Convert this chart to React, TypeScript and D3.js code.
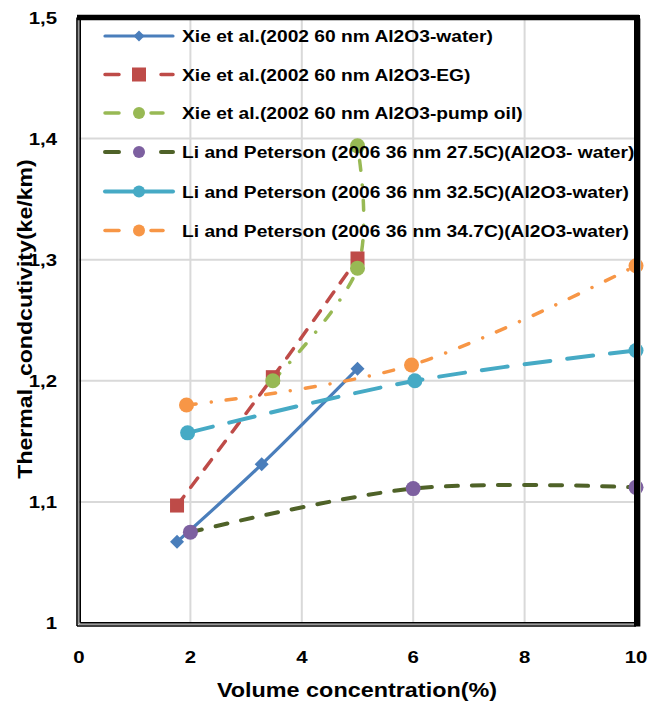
import React from "react";
import * as d3 from "d3";

const W = 649;
const H = 706;

const seriesNames = [
  "Xie et al.(2002 60 nm Al2O3-water)",
  "Xie et al.(2002 60 nm Al2O3-EG)",
  "Xie et al.(2002 60 nm Al2O3-pump oil)",
  "Li and Peterson (2006 36 nm 27.5C)(Al2O3- water)",
  "Li and Peterson (2006 36 nm 32.5C)(Al2O3-water)",
  "Li and Peterson (2006 36 nm 34.7C)(Al2O3-water)",
];

const xieWaterX = [1.76, 3.28, 5.0];
const xieWaterY = [1.067, 1.131, 1.21];
const xieEgX = [1.76, 3.48, 5.0];
const xieEgY = [1.097, 1.203, 1.301];
const xieOilX = [3.48, 5.0, 5.0];
const xieOilY = [1.2, 1.293, 1.394];
const li275X = [2.0, 6.0, 10.0];
const li275Y = [1.075, 1.111, 1.112];
const li325X = [1.95, 6.03, 10.0];
const li325Y = [1.157, 1.2, 1.225];
const li347X = [1.93, 5.97, 10.0];
const li347Y = [1.18, 1.213, 1.295];

const xTicks = [0, 2, 4, 6, 8, 10];
const yTicks = [1.0, 1.1, 1.2, 1.3, 1.4, 1.5];
const yTickLabels = ["1", "1,1", "1,2", "1,3", "1,4", "1,5"];

type Style = {
  color: string;
  marker: string;
  markerColor: string;
  width: number;
  dash: string;
};

const styles: Style[] = [
  { color: "#4a7ebb", marker: "diamond", markerColor: "#4a7ebb", width: 3.2, dash: "" },
  { color: "#be4b48", marker: "square", markerColor: "#be4b48", width: 3.5, dash: "11.5 11.5" },
  { color: "#98b954", marker: "circle", markerColor: "#98b954", width: 3.5, dash: "10 15 0.01 15" },
  { color: "#4f6228", marker: "circle", markerColor: "#7d60a0", width: 4, dash: "12 14" },
  { color: "#46aac5", marker: "circle", markerColor: "#46aac5", width: 4, dash: "26 17" },
  { color: "#f79646", marker: "circle", markerColor: "#f79646", width: 3.5, dash: "10 15 0.01 15" },
];

const seriesX = [xieWaterX, xieEgX, xieOilX, li275X, li325X, li347X];
const seriesY = [xieWaterY, xieEgY, xieOilY, li275Y, li325Y, li347Y];

const FONT = "'Liberation Sans', Arial, sans-serif";

const left = 79;
const right = 636;
const top = 17.5;
const bottom = 623;

function Marker({ type, x, y, color, size }: { type: string; x: number; y: number; color: string; size: number }) {
  if (type === "diamond") {
    const s = size;
    return <path d={`M${x},${y - s} L${x + s},${y} L${x},${y + s} L${x - s},${y} Z`} fill={color} />;
  }
  if (type === "square") {
    const s = size;
    return <rect x={x - s} y={y - s} width={2 * s} height={2 * s} fill={color} />;
  }
  return <circle cx={x} cy={y} r={size} fill={color} />;
}

function SText({
  x,
  y,
  size,
  sx,
  anchor,
  children,
}: {
  x: number;
  y: number;
  size: number;
  sx: number;
  anchor?: string;
  children: React.ReactNode;
}) {
  return (
    <g transform={`translate(${x},${y}) scale(${sx},1)`}>
      <text
        x={0}
        y={0}
        textAnchor={anchor || "start"}
        fontFamily={FONT}
        fontWeight="bold"
        fontSize={size}
        fill="#000"
        style={{ whiteSpace: "pre" }}
      >
        {children}
      </text>
    </g>
  );
}

export default function App() {
  const xScale = d3.scaleLinear().domain([0, 10]).range([left, right]);
  const yScale = d3.scaleLinear().domain([1, 1.5]).range([bottom, top]);

  const line = d3
    .line<[number, number]>()
    .x((d) => xScale(d[0]))
    .y((d) => yScale(d[1]))
    .curve(d3.curveCardinal.tension(0));

  const legendRows = [36, 74.5, 113, 152, 191.5, 230.5];

  return (
    <svg width={W} height={H} style={{ position: "absolute", left: 0, top: 0 }}>
      <rect x={0} y={0} width={W} height={H} fill="#ffffff" />
      {yTicks.slice(1, -1).map((t) => (
        <line key={"gy" + t} x1={left} x2={right} y1={yScale(t)} y2={yScale(t)} stroke="#d9d9d9" strokeWidth={2} />
      ))}
      {xTicks.slice(1, -1).map((t) => (
        <line key={"gx" + t} x1={xScale(t)} x2={xScale(t)} y1={top} y2={bottom} stroke="#d9d9d9" strokeWidth={2} />
      ))}

      {seriesX.map((xs, i) => {
        const pts: [number, number][] = xs.map((x, j) => [x, seriesY[i][j]]);
        const st = styles[i];
        return (
          <path
            key={"l" + i}
            d={line(pts) || ""}
            fill="none"
            stroke={st.color}
            strokeWidth={st.width}
            strokeDasharray={st.dash || undefined}
            strokeLinecap={st.dash ? "round" : "butt"}
          />
        );
      })}
      {seriesX.map((xs, i) =>
        xs.map((x, j) => (
          <Marker
            key={"m" + i + "-" + j}
            type={styles[i].marker}
            x={xScale(x)}
            y={yScale(seriesY[i][j])}
            color={styles[i].markerColor}
            size={styles[i].marker === "circle" ? 7.5 : 7}
          />
        ))
      )}

      {/* frame */}
      <line x1={left - 2} x2={left - 2} y1={top} y2={bottom + 3} stroke="#000" strokeWidth={1.6} />
      <line x1={left - 0.3} x2={left - 0.3} y1={top} y2={bottom + 1.3} stroke="#999" strokeWidth={1.4} />
      <line x1={left + 1.2} x2={left + 1.2} y1={top} y2={bottom - 0.2} stroke="#000" strokeWidth={1.6} />
      <line x1={left - 2} x2={right} y1={bottom + 3} y2={bottom + 3} stroke="#000" strokeWidth={1.6} />
      <line x1={left - 0.3} x2={right} y1={bottom + 1.3} y2={bottom + 1.3} stroke="#999" strokeWidth={1.4} />
      <line x1={left + 1.2} x2={right} y1={bottom - 0.2} y2={bottom - 0.2} stroke="#000" strokeWidth={1.6} />
      <line x1={left - 2} x2={right + 3} y1={top} y2={top} stroke="#000" strokeWidth={5.5} />
      <line x1={right + 1} x2={right + 1} y1={top - 2.5} y2={bottom + 3.5} stroke="#000" strokeWidth={6} />
      <line x1={right + 4.5} x2={right + 4.5} y1={top + 1} y2={bottom + 3.5} stroke="#aaa" strokeWidth={1} />

      {/* legend */}
      {seriesNames.map((name, i) => {
        const y = legendRows[i];
        const st = styles[i];
        return (
          <g key={"lg" + i}>
            <line
              x1={105}
              x2={173}
              y1={y}
              y2={y}
              stroke={st.color}
              strokeWidth={st.width}
              strokeDasharray={st.dash ? (i === 2 || i === 5 ? "14 60" : i === 4 ? "200" : "14 42") : undefined}
              strokeLinecap="round"
            />
            {(i === 2 || i === 5) && (
              <line x1={151} x2={163} y1={y} y2={y} stroke={st.color} strokeWidth={st.width} strokeLinecap="round" />
            )}
            <Marker
              type={st.marker}
              x={139}
              y={y}
              color={st.markerColor}
              size={st.marker === "circle" ? 6 : st.marker === "square" ? 7 : 5.5}
            />
            <SText x={182} y={y + 6} size={17} sx={1.13}>
              {name}
            </SText>
          </g>
        );
      })}

      {yTicks.map((t, i) => (
        <SText key={"yt" + t} x={57} y={yScale(t) + 6} size={17} sx={1.2} anchor="end">
          {yTickLabels[i]}
        </SText>
      ))}
      {xTicks.map((t) => (
        <SText key={"xt" + t} x={xScale(t)} y={663} size={17} sx={1.2} anchor="middle">
          {String(t)}
        </SText>
      ))}

      <SText x={357} y={697} size={20} sx={1.17} anchor="middle">
        Volume concentration(%)
      </SText>
      <g transform="translate(32,319) rotate(-90)">
        <SText x={0} y={0} size={20} sx={1.155} anchor="middle">
          {"Thermal  condcutivity(ke/km)"}
        </SText>
      </g>
    </svg>
  );
}
